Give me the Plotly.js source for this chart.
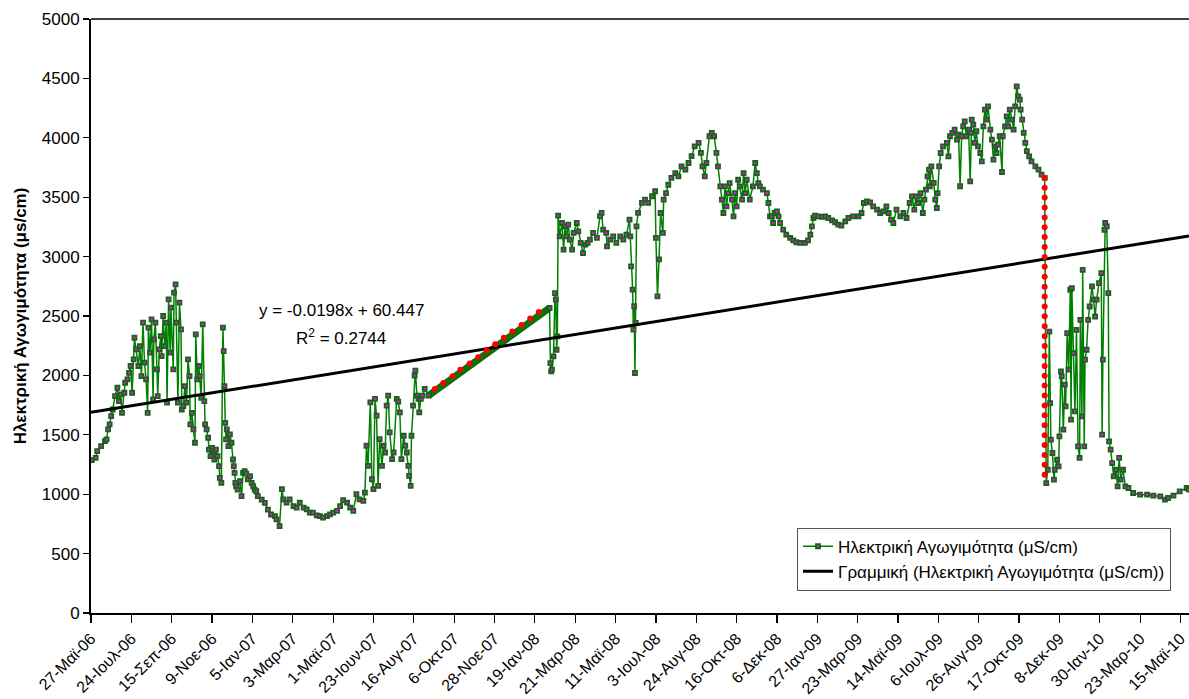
<!DOCTYPE html>
<html>
<head>
<meta charset="utf-8">
<script src="https://cdn.plot.ly/plotly-3.0.1.min.js"></script>
<style>html,body{margin:0;padding:0;background:#fff;}#chart{width:1189px;height:699px;}</style>
</head>
<body>
<div id="chart"></div>
<script>
// Category labels (one label every 52 rows of the daily series)
const tickLabels = ['27-Μαϊ-06','24-Ιουλ-06','15-Σεπ-06','9-Νοε-06','5-Ιαν-07','3-Μαρ-07','1-Μαϊ-07','23-Ιουν-07','16-Αυγ-07','6-Οκτ-07','28-Νοε-07','19-Ιαν-08','21-Μαρ-08','11-Μαϊ-08','3-Ιουλ-08','24-Αυγ-08','16-Οκτ-08','6-Δεκ-08','27-Ιαν-09','23-Μαρ-09','14-Μαϊ-09','6-Ιουλ-09','26-Αυγ-09','17-Οκτ-09','8-Δεκ-09','30-Ιαν-10','23-Μαρ-10','15-Μαϊ-10'];
const rowsPerLabel = 52;

// Electrical conductivity series: row number and value (µS/cm)
const ecRow = [1,6,8,13,18,20,22,24,26,28,31,34,36,38,40,43,44,47,49,51,53,55,56,58,61,63,65,67,69,71,73,74,76,78,80,81,83,85,86,88,90,91,93,95,97,98,100,102,103,106,107,109,110,112,114,116,117,119,121,123,125,127,128,130,132,134,135,137,139,140,142,144,146,147,149,151,152,154,156,158,159,161,163,165,166,168,170,171,172,173,174,175,177,179,181,183,184,185,186,187,189,192,194,196,198,200,202,205,207,209,211,213,215,220,224,228,232,237,
239,243,246,248,252,256,261,265,269,274,278,282,286,291,295,299,304,308,312,317,321,325,330,334,338,342,346,351,353,355,357,360,362,364,366,368,370,372,375,377,379,381,383,385,388,390,394,396,398,400,403,405,407,409,410,412,413,415,417,418,420,422,423,425,427,430,435,
591,592,593,594,596,598,599,600,601,602,604,607,609,611,613,615,617,620,622,626,628,631,634,637,640,643,647,652,656,658,660,664,665,669,673,677,682,686,690,694,695,696,698,699,700,701,702,703,705,710,714,718,723,727,728,730,732,734,737,738,741,744,748,753,757,761,766,770,774,778,783,786,788,791,793,797,800,803,806,808,811,813,815,817,819,821,823,826,828,830,832,834,836,839,841,843,845,849,853,856,858,860,862,866,871,873,875,877,879,881,884,886,888,892,896,901,905,909,914,920,924,927,929,931,933,937,942,946,950,955,959,963,967,972,976,982,989,993,996,1000,1004,1008,1013,1017,1021,1025,1028,1031,1034,1038,1043,1047,1051,1055,1058,1061,1063,1066,1069,1072,1074,1076,1078,1080,1081,1083,1086,1088,1090,1091,1093,1095,1098,1103,1105,1107,1110,1113,1116,1118,1120,1122,1124,1126,1128,1131,1133,1134,1135,1137,1139,1141,1143,1146,1148,1150,1152,1154,1156,1159,1161,1163,1165,1167,1169,1171,1174,1175,1178,1180,1182,1184,1187,1189,1191,1193,1195,1197,1198,1200,1202,1204,1206,1209,1212,1217,1221,1225,1229,
1231,1233,1235,1236,1237,1239,1241,1242,1245,1247,1248,1250,1251,1253,1255,1256,1258,1260,1262,1263,1264,1266,1268,1270,1272,1274,1275,1277,1278,1280,1281,1283,1285,1287,1290,1292,1294,1296,1299,1302,1303,1304,1306,1307,1309,1311,1312,1314,1316,1318,1321,1323,1325,1327,1330,1333,1337,1343,1352,1361,1369,1378,1384,1388,1395,1403,1412,1415];
const ecValue = [1287,1306,1362,1404,1447,1461,1545,1587,1657,1713,1826,1896,1784,1840,1685,1854,1938,1966,2022,2079,1854,2135,2317,2219,2079,2247,1994,2444,2107,1966,1685,2402,2191,2472,1798,2303,2444,2051,1826,2219,2331,2163,2500,2247,2444,1770,2640,2191,2570,2051,2697,2767,2444,1770,2612,2388,1713,1742,1910,1770,2135,1994,1587,1685,1545,1433,2345,1966,2079,1994,1812,2430,1784,1587,1545,1475,1376,1320,1390,1362,1292,1376,1320,1236,1138,1095,2402,2205,1910,1601,1461,1545,1404,1503,1433,1292,1236,1180,1095,1067,1039,1110,983,1180,1194,1174,1124,1152,1095,1067,1039,1025,983,955,927,871,829,815,
788,732,1042,957,929,957,900,887,929,887,873,845,845,822,816,802,816,830,845,859,900,949,929,887,859,1000,957,943,1013,1408,1239,1773,1126,1042,1802,1661,1070,1464,1239,1408,1351,1745,1830,1520,1295,1351,1802,1780,1689,1295,1492,1408,1351,1239,1154,1070,1492,1745,1999,2041,1830,1802,1689,1802,1830,1886,1830,
2568,2104,2034,2048,2160,2693,2637,2216,2328,3345,3170,3283,3058,3255,3170,3269,3143,3058,3199,3283,3213,3115,3030,3101,3115,3143,3199,3157,3340,3368,3227,3199,3086,3143,3170,3115,3170,3143,3185,3312,3170,2918,2722,2385,2582,2020,2442,3255,3368,3452,3480,3452,3508,3550,3158,2665,2976,3367,3199,3480,3535,3605,3663,3703,3675,3760,3732,3788,3845,3928,3957,3873,3760,3675,3788,4013,4042,4013,3873,3760,3591,3479,3367,3591,3423,3535,3619,3479,3339,3535,3423,3647,3591,3479,3703,3535,3647,3479,3591,3788,3703,3619,3591,3563,3535,3451,3339,3339,3283,3367,3381,3339,3283,3227,3185,3157,3137,3121,3115,3115,3137,3185,3255,3325,3345,3339,3334,3339,3325,3305,3289,3269,3260,3297,3325,3339,3339,3367,3451,3465,3457,3423,3395,3367,3381,3423,3367,3311,3283,3395,3339,3367,3325,3451,3507,3395,3507,3451,3535,3367,3479,3563,3675,3731,3592,3760,3620,3479,3409,3535,3760,3872,3928,3957,3844,4013,4041,4069,3985,4027,3592,4013,4097,4139,4013,4069,3634,4041,4153,4111,3957,4055,3928,3872,3802,4097,4237,4153,4265,4069,3985,3816,3928,3872,3943,4013,3712,4013,4097,4181,4097,4237,4153,4069,4265,4433,4349,4321,4237,4153,4041,3957,3887,3844,3802,3760,3732,3690,3662,
1094,1206,2369,1767,1459,1347,1122,1206,1290,1234,1487,2034,1992,1543,1922,1739,2356,2048,2721,1627,2735,2188,1697,2384,1403,1305,2468,1655,2889,1403,2132,2216,2468,2580,2749,2637,2496,2637,2777,2861,1501,2132,3226,3283,3255,2693,1445,1375,1262,1150,1206,1066,1305,1122,1206,1066,1052,1010,996,996,988,982,954,968,988,1024,1052,1038];

// Filled (interpolated) gap shown as a thick band, with its red marker points
const gapRow = [435, 591];
const gapValue = [1830, 2568];
const redRow = [443,454,466,476,488,499,510,521,532,543,555,566,577,
  1229,1229,1229,1229,1229,1229,1229,1229,1229,1229,1229,1229,1229,1229,1229,1229,1229,1229,1229,1229,1229,1229,1229,1229,1229,1229,1229,1229,1229,1229,1229];
const redValue = [1886,1937,1993,2047,2100,2153,2210,2263,2317,2370,2424,2480,2534,
  3664,3580,3497,3414,3330,3247,3164,3080,2997,2914,2830,2747,2664,2580,2497,2414,2330,2247,2164,2080,1997,1914,1830,1747,1664,1580,1497,1414,1330,1247,1164];

// Linear trendline (as drawn)
const trendRow = [0, 1415];
const trendValue = [1689, 3174];

const tickVals = tickLabels.map((_, i) => i * rowsPerLabel);
const FONT = 'Liberation Sans, Arial, sans-serif';

const traces = [
  {x: gapRow, y: gapValue, mode: 'lines', line: {color: '#0a700a', width: 7}, showlegend: false, hoverinfo: 'skip'},
  {x: ecRow, y: ecValue, mode: 'lines+markers', name: 'Ηλεκτρική Αγωγιμότητα (μS/cm)',
   line: {color: '#008000', width: 1.5},
   marker: {symbol: 'square', size: 4, color: '#ff00ff', line: {color: '#0d6b0d', width: 1.8}}},
  {x: trendRow, y: trendValue, mode: 'lines', name: 'Γραμμική (Ηλεκτρική Αγωγιμότητα (μS/cm))',
   line: {color: '#000000', width: 3}},
  {x: redRow, y: redValue, mode: 'markers', showlegend: false,
   marker: {symbol: 'circle', size: 6, color: '#ff0000'}}
];

const layout = {
  width: 1189, height: 699,
  margin: {l: 91, r: 0, t: 19, b: 86},
  paper_bgcolor: '#ffffff', plot_bgcolor: '#ffffff',
  font: {family: FONT, size: 17, color: '#000000'},
  showlegend: true,
  legend: {x: 0.643, y: 0.1436, xanchor: 'left', yanchor: 'top',
    bgcolor: '#ffffff', bordercolor: '#555555', borderwidth: 1,
    font: {family: FONT, size: 17, color: '#000'}, tracegroupgap: 0, itemwidth: 30},
  xaxis: {
    range: [0, 1415], tickmode: 'array', tickvals: tickVals, ticktext: tickLabels,
    tickangle: -45, ticks: 'outside', ticklen: 8, tickwidth: 1.2, tickcolor: '#000',
    showline: true, linecolor: '#000', linewidth: 2, showgrid: false, zeroline: false,
    tickfont: {family: FONT, size: 16, color: '#000'}
  },
  yaxis: {
    range: [0, 5000], dtick: 500, ticks: 'outside', ticklen: 6, tickwidth: 1.2, tickcolor: '#000',
    showline: true, linecolor: '#000', linewidth: 2, showgrid: false, zeroline: false,
    tickfont: {family: FONT, size: 17, color: '#000'},
    title: {text: '<b>Ηλεκτρική Αγωγιμότητα (μs/cm)</b>', font: {family: FONT, size: 17, color: '#000'}, standoff: 11}
  },
  shapes: [
    {type: 'line', xref: 'paper', yref: 'paper', x0: 0, x1: 1, y0: 1, y1: 1, line: {color: '#404040', width: 2}}
  ],
  annotations: [
    {xref: 'paper', yref: 'paper', x: 0.2277, y: 0.5089, text: 'y = -0.0198x + 60.447', showarrow: false,
     xanchor: 'center', yanchor: 'middle', font: {family: FONT, size: 17, color: '#000'}},
    {xref: 'paper', yref: 'paper', x: 0.2277, y: 0.4652, text: 'R<sup>2</sup> = 0.2744', showarrow: false,
     xanchor: 'center', yanchor: 'middle', font: {family: FONT, size: 17, color: '#000'}}
  ]
};

Plotly.newPlot('chart', traces, layout, {displayModeBar: false, staticPlot: true});
</script>
</body>
</html>
